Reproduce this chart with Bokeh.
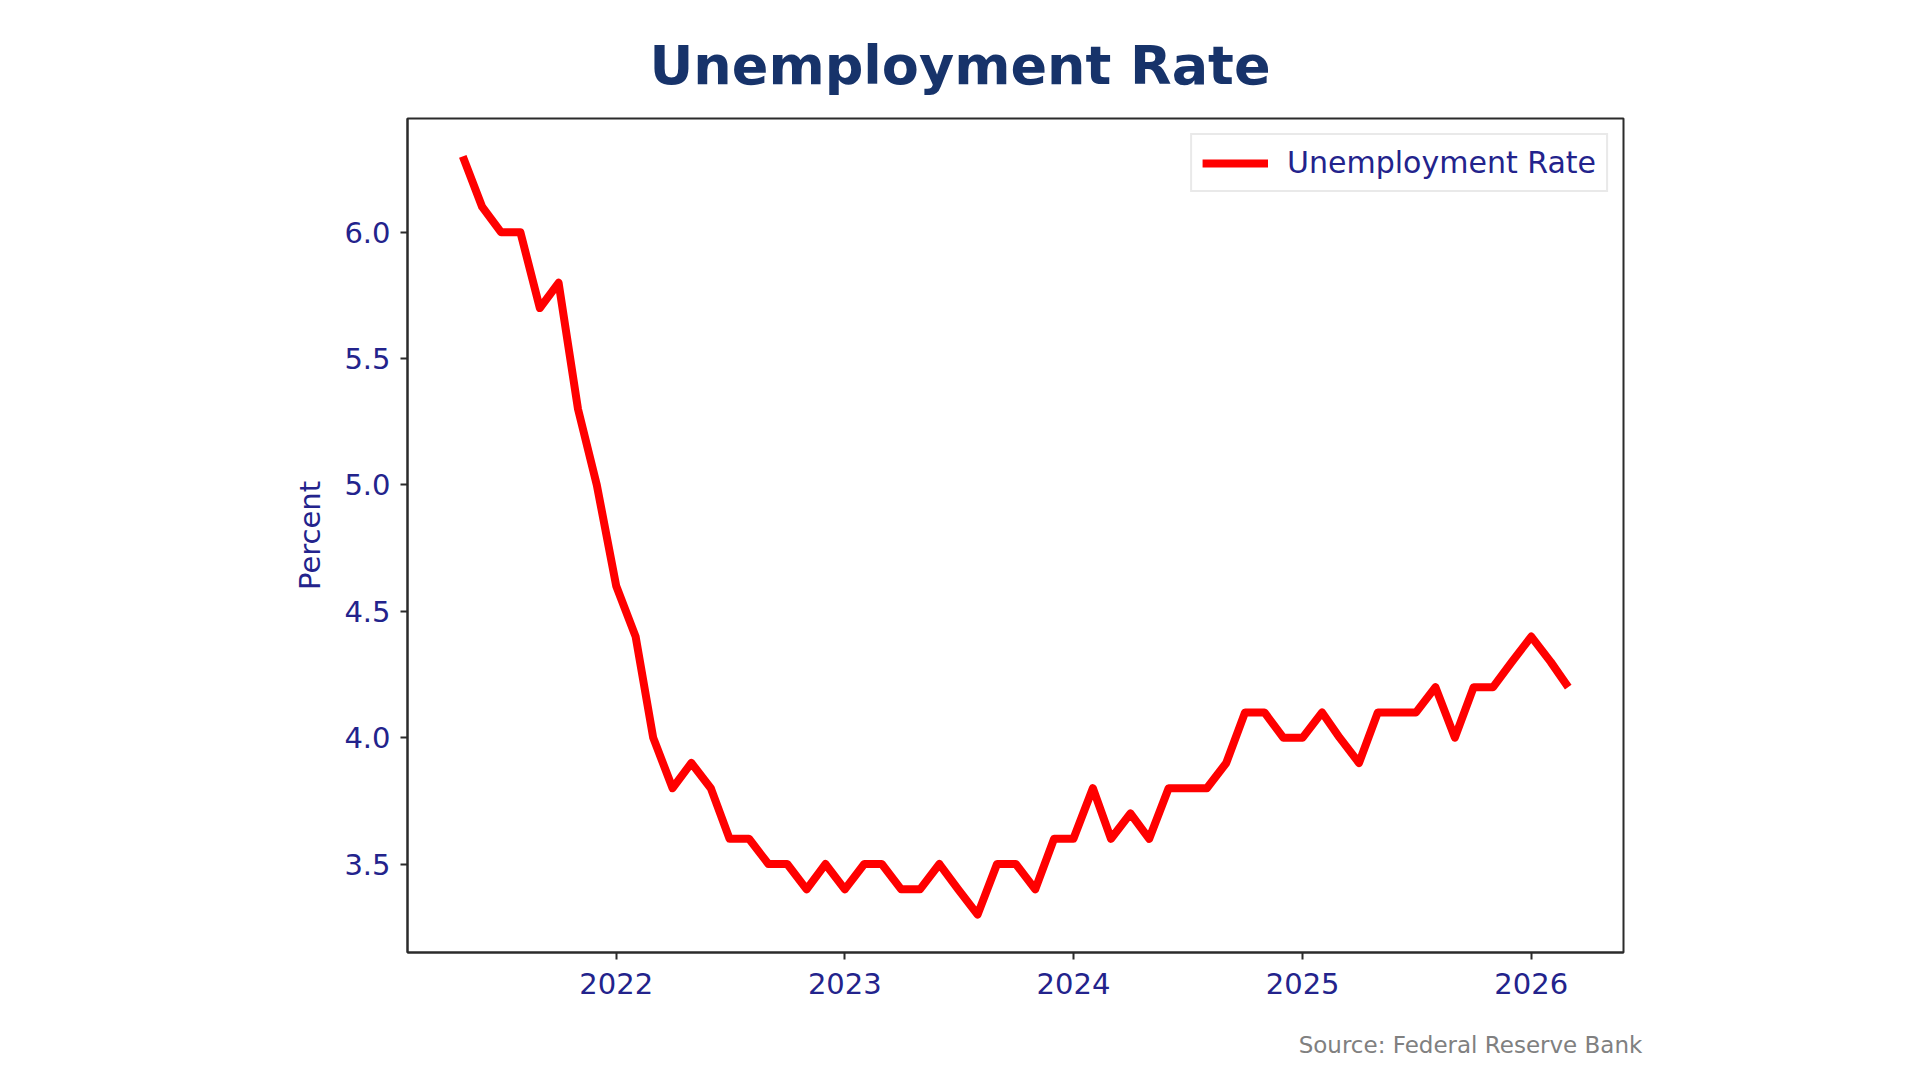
import pandas as pd
from bokeh.plotting import figure
from bokeh.models import (Range1d, FixedTicker, DatetimeTickFormatter, Legend,
                          LegendItem, LinearAxis, PrintfTickFormatter)
from bokeh.embed import file_html
from bokeh.resources import INLINE

# ---- data ----
months = [
    "2021-05", "2021-06", "2021-07", "2021-08", "2021-09", "2021-10", "2021-11", "2021-12",
    "2022-01", "2022-02", "2022-03", "2022-04", "2022-05", "2022-06",
    "2022-07", "2022-08", "2022-09", "2022-10", "2022-11", "2022-12",
    "2023-01", "2023-02", "2023-03", "2023-04", "2023-05", "2023-06",
    "2023-07", "2023-08", "2023-09", "2023-10", "2023-11", "2023-12",
    "2024-01", "2024-02", "2024-03", "2024-04", "2024-05", "2024-06",
    "2024-07", "2024-08", "2024-09", "2024-10", "2024-11", "2024-12",
    "2025-01", "2025-02", "2025-03", "2025-04", "2025-05", "2025-06",
    "2025-07", "2025-08", "2025-09", "2025-10", "2025-11", "2025-12",
    "2026-01", "2026-02", "2026-03",
]
rates = [
    6.3, 6.1, 6.0, 6.0, 5.7, 5.8, 5.3, 5.0,
    4.6, 4.4, 4.0, 3.8, 3.9, 3.8, 3.6, 3.6, 3.5, 3.5, 3.4, 3.5,
    3.4, 3.5, 3.5, 3.4, 3.4, 3.5, 3.4, 3.3, 3.5, 3.5, 3.4, 3.6,
    3.6, 3.8, 3.6, 3.7, 3.6, 3.8, 3.8, 3.8, 3.9, 4.1, 4.1, 4.0,
    4.0, 4.1, 4.0, 3.9, 4.1, 4.1, 4.1, 4.2, 4.0, 4.2, 4.2, 4.3,
    4.4, 4.3, 4.2,
]
year_ticks = ["2022-01-01", "2023-01-01", "2024-01-01", "2025-01-01", "2026-01-01"]
y_ticks = [3.5, 4.0, 4.5, 5.0, 5.5, 6.0]

title_text = "Unemployment Rate"
series_name = "Unemployment Rate"
y_label = "Percent"
source_text = "Source: Federal Reserve Bank"

# ---- build ----
x_ms = [pd.Timestamp(m).timestamp() * 1000 for m in months]
tick_ms = [pd.Timestamp(t).timestamp() * 1000 for t in year_ticks]

xspan = max(x_ms) - min(x_ms)
yspan = max(rates) - min(rates)
x_range = Range1d(min(x_ms) - 0.05 * xspan, max(x_ms) + 0.05 * xspan)
y_range = Range1d(min(rates) - 0.05 * yspan, max(rates) + 0.05 * yspan)

TICK_COLOR = "#23238c"
FONT = "DejaVu Sans"
W, H = 1904, 1064
LEFT, RIGHT, TOP, BOTTOM = 407, 281, 118, 112

p = figure(width=W, height=H, x_axis_type="datetime",
           x_range=x_range, y_range=y_range,
           output_backend="svg", toolbar_location=None,
           min_border_left=LEFT, min_border_right=RIGHT,
           min_border_top=TOP, min_border_bottom=BOTTOM,
           background_fill_color="white", border_fill_color="white")

r = p.line(x_ms, rates, line_color="#ff0000", line_width=8, line_join="round")

# title
p.title.text = title_text
p.title.text_font = FONT
p.title.text_font_style = "bold"
p.title.text_font_size = "54px"
p.title.text_color = "#17336a"
p.title.align = "left"
p.title.offset = 242
p.title.standoff = 43

# frame
p.outline_line_color = "#2b2b2b"
p.outline_line_width = 2
p.grid.visible = False

for ax in (p.xaxis[0], p.yaxis[0]):
    ax.axis_line_color = "#2b2b2b"
    ax.axis_line_width = 2
    ax.major_tick_line_color = "#2b2b2b"
    ax.major_tick_line_width = 2
    ax.major_tick_out = 7
    ax.major_tick_in = 0
    ax.minor_tick_line_color = None
    ax.major_label_text_font = FONT
    ax.major_label_text_font_size = "29px"
    ax.major_label_text_color = TICK_COLOR

p.xaxis.major_label_standoff = 13
p.yaxis.major_label_standoff = 10

p.xaxis.ticker = FixedTicker(ticks=tick_ms)
p.xaxis.formatter = DatetimeTickFormatter(
    years="%Y", months="%Y", days="%Y", hours="%Y", hourmin="%Y",
    minutes="%Y", minsec="%Y", seconds="%Y", milliseconds="%Y", microseconds="%Y")
p.yaxis.ticker = FixedTicker(ticks=y_ticks)
p.yaxis.formatter = PrintfTickFormatter(format="%.1f")
p.yaxis.axis_label = y_label
p.yaxis.axis_label_text_font = FONT
p.yaxis.axis_label_text_font_style = "normal"
p.yaxis.axis_label_text_font_size = "29px"
p.yaxis.axis_label_text_color = TICK_COLOR
p.yaxis.axis_label_standoff = 14

legend = Legend(items=[LegendItem(label=series_name, renderers=[r])],
                location="top_right", margin=15, padding=10,
                glyph_width=66, glyph_height=20, label_standoff=19,
                label_text_font=FONT, label_text_font_size="30px",
                label_text_color=TICK_COLOR,
                border_line_color="#d4d4d4", border_line_width=2,
                background_fill_color="white", background_fill_alpha=0.9)
p.add_layout(legend)

# source note: a bare helper axis below the date axis, in canvas pixels
p.extra_x_ranges = {"note": Range1d(LEFT, W - RIGHT)}
note_pos = 1470
note_axis = LinearAxis(x_range_name="note",
                       ticker=FixedTicker(ticks=[note_pos]),
                       major_label_overrides={note_pos: source_text},
                       axis_line_color=None, major_tick_line_color=None,
                       minor_tick_line_color=None,
                       major_tick_out=0, major_tick_in=0,
                       major_label_standoff=35,
                       major_label_text_font=FONT,
                       major_label_text_font_size="23px",
                       major_label_text_color="#808080")
p.add_layout(note_axis, "below")

open("out.html", "w").write(file_html(p, INLINE))
